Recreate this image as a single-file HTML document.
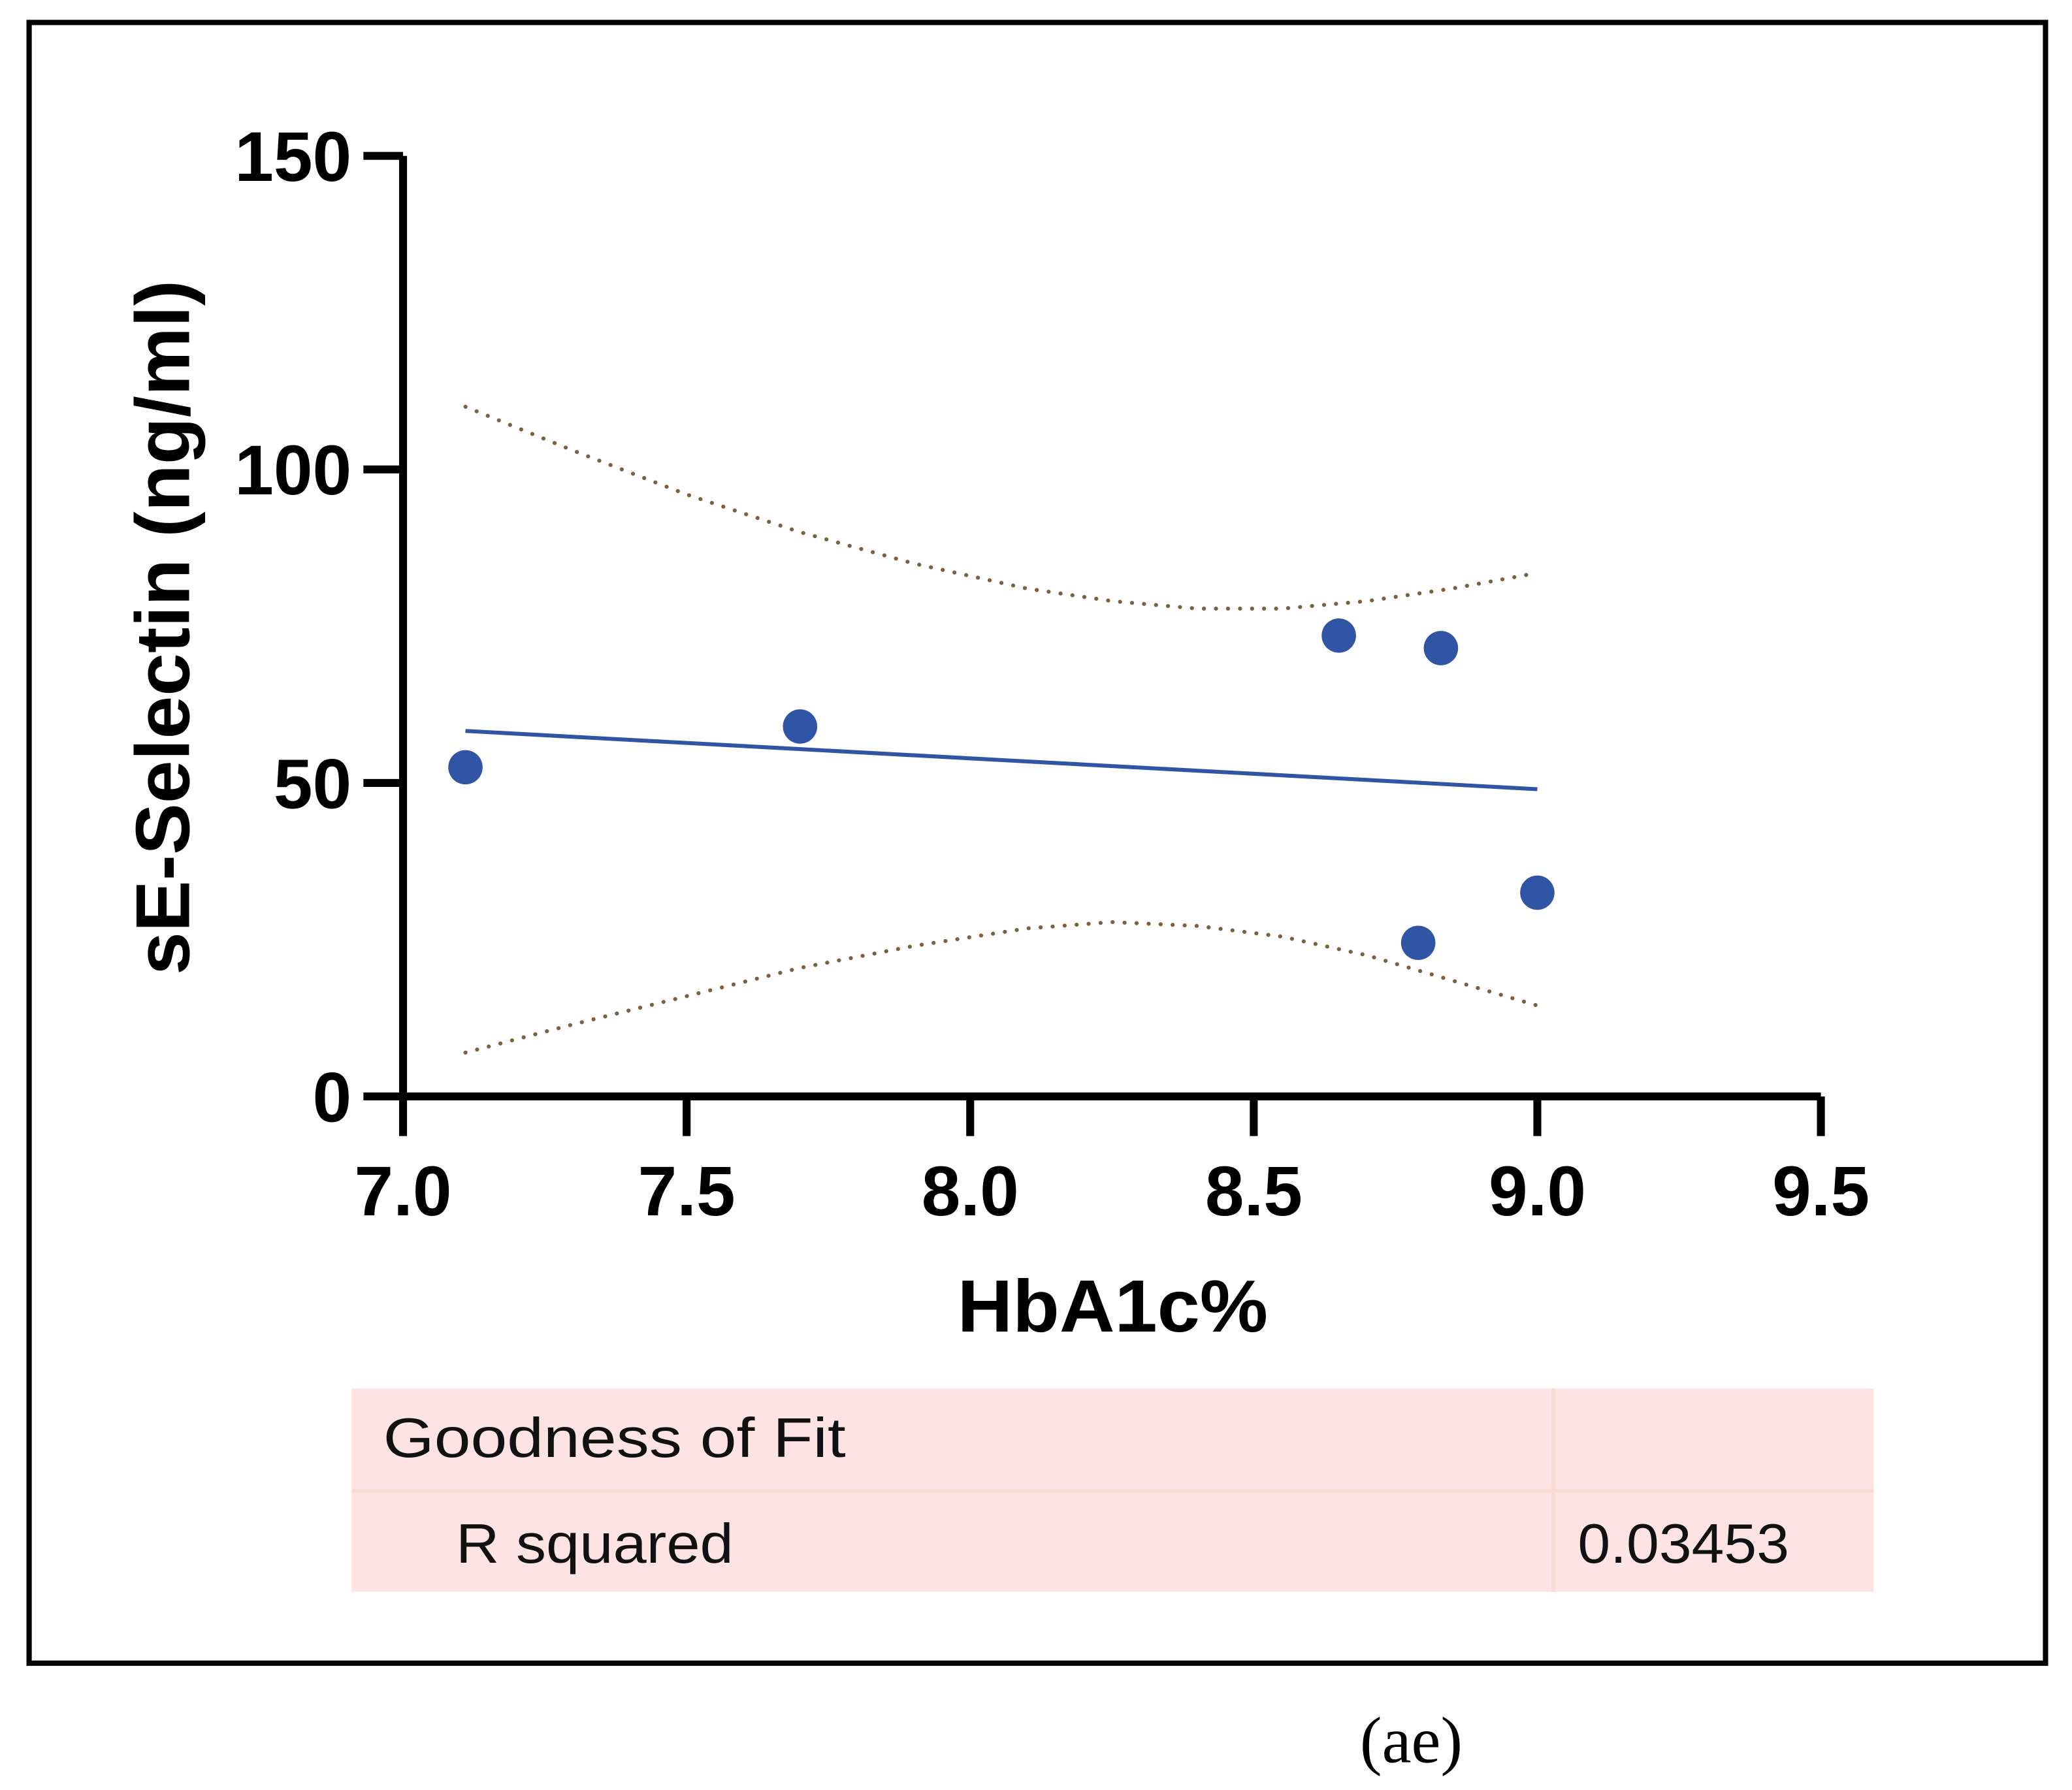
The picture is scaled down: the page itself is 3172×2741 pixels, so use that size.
<!DOCTYPE html>
<html><head><meta charset="utf-8"><style>
html,body{margin:0;padding:0;background:#fff}
svg{display:block}
</style></head><body>
<svg id="chart" width="3172" height="2741" viewBox="0 0 1568 1355" xmlns="http://www.w3.org/2000/svg">
<rect x="22" y="17" width="1526" height="1242" fill="none" stroke="#000" stroke-width="4"/>
<g id="axes"></g>
<text transform="translate(143,475) rotate(-90)" text-anchor="middle" font-family="Liberation Sans, sans-serif" font-weight="bold" font-size="58" textLength="526" lengthAdjust="spacingAndGlyphs">sE-Selectin (ng/ml)</text>
<text x="842" y="1008" text-anchor="middle" font-family="Liberation Sans, sans-serif" font-weight="bold" font-size="56" textLength="235" lengthAdjust="spacingAndGlyphs">HbA1c%</text>
<g>
<rect x="266" y="1051" width="1152" height="154" fill="#fde3e4"/>
<rect x="266" y="1127" width="1152" height="3" fill="#f8dcd3"/>
<rect x="1174" y="1051" width="3" height="154" fill="#f8dcd3"/>
<text x="290" y="1103" font-family="Liberation Sans, sans-serif" font-size="42" fill="#111" textLength="350" lengthAdjust="spacingAndGlyphs">Goodness of Fit</text>
<text x="345" y="1183" font-family="Liberation Sans, sans-serif" font-size="42" fill="#111" textLength="210" lengthAdjust="spacingAndGlyphs">R squared</text>
<text x="1194" y="1183" font-family="Liberation Sans, sans-serif" font-size="42" fill="#111" textLength="160" lengthAdjust="spacingAndGlyphs">0.03453</text>
</g>
<text x="1068" y="1334" text-anchor="middle" font-family="Liberation Serif, serif" font-size="50">(ae)</text>
</svg>
<script>
const xTicks = [7.0, 7.5, 8.0, 8.5, 9.0, 9.5];
const xTickLabels = ["7.0", "7.5", "8.0", "8.5", "9.0", "9.5"];
const yTicks = [0, 50, 100, 150];
const yTickLabels = ["0", "50", "100", "150"];
const pointsX = [7.11, 7.7, 8.65, 8.83, 8.79, 9.0];
const pointsY = [52.5, 59, 73.5, 71.5, 24.5, 32.5];
const fitX = [7.11, 9.0];
const fitY = [58.3, 49.0];
const bandX = [7.11, 7.3, 7.5, 7.7, 7.9, 8.1, 8.25, 8.4, 8.55, 8.7, 8.85, 9.0];
const bandUpper = [110, 103, 96, 90, 85, 81, 79, 77.8, 77.8, 79, 81, 83.5];
const bandLower = [7, 11.5, 16, 20.5, 24, 26.8, 27.8, 27.2, 25.5, 22.5, 18.5, 14.5];

const X0 = 305, X1 = 1378, Y0 = 830, Y1 = 118;
const sx = v => X0 + (v - 7.0) / (9.5 - 7.0) * (X1 - X0);
const sy = v => Y0 - v / 150 * (Y0 - Y1);
const NS = "http://www.w3.org/2000/svg";
const g = document.getElementById('axes');
function mk(tag, attrs) { const e = document.createElementNS(NS, tag); for (const k in attrs) e.setAttribute(k, attrs[k]); g.appendChild(e); return e; }

let e = mk('line', {x1: X0, y1: Y1, x2: X0, y2: Y0 + 2, stroke: '#000', 'stroke-width': 6});


e = mk('line', {x1: X0 - 3, y1: Y0, x2: X1, y2: Y0, stroke: '#000', 'stroke-width': 6});



yTicks.forEach((v, i) => {
  let t = mk('line', {x1: X0 - 30, y1: sy(v), x2: X0, y2: sy(v), stroke: '#000', 'stroke-width': 6});
  
  
  let l = mk('text', {x: 266, y: sy(v) + 19, 'text-anchor': 'end', 'font-family': 'Liberation Sans, sans-serif', 'font-weight': 'bold', 'font-size': 53});
  l.textContent = yTickLabels[i];
  
  
});
xTicks.forEach((v, i) => {
  let t = mk('line', {x1: sx(v), y1: Y0, x2: sx(v), y2: Y0 + 30, stroke: '#000', 'stroke-width': 6});
  
  
  let l = mk('text', {x: sx(v), y: 920, 'text-anchor': 'middle', 'font-family': 'Liberation Sans, sans-serif', 'font-weight': 'bold', 'font-size': 53});
  l.textContent = xTickLabels[i];
  
  
});

function pathFrom(xs, ys) {
  return xs.map((x, i) => (i ? 'L' : 'M') + sx(x).toFixed(1) + ',' + sy(ys[i]).toFixed(1)).join(' ');
}
e = mk('path', {d: pathFrom(bandX, bandUpper), fill: 'none', stroke: '#7a6240', 'stroke-width': 3, 'stroke-dasharray': '0.1 9', 'stroke-linecap': 'round'});


e = mk('path', {d: pathFrom(bandX, bandLower), fill: 'none', stroke: '#7a6240', 'stroke-width': 3, 'stroke-dasharray': '0.1 9', 'stroke-linecap': 'round'});


e = mk('path', {d: pathFrom(fitX, fitY), fill: 'none', stroke: '#2f55a4', 'stroke-width': 3});



pointsX.forEach((x, i) => {
  let c = mk('circle', {cx: sx(x), cy: sy(pointsY[i]), r: 13, fill: '#2f55a4'});
  
  
});
</script>
</body></html>
